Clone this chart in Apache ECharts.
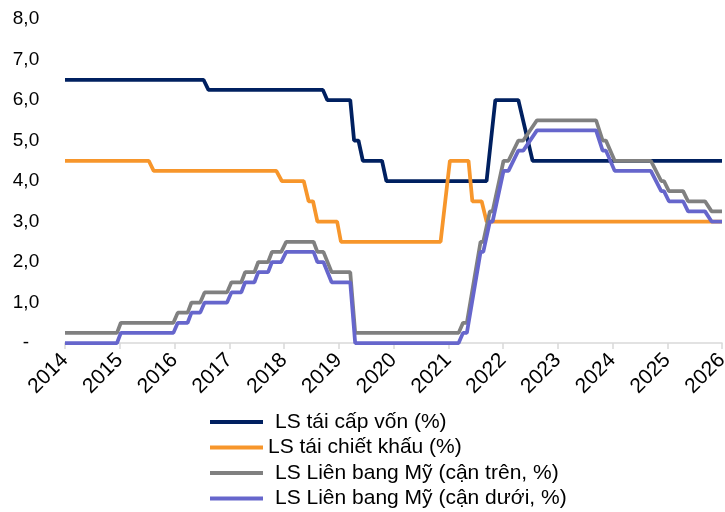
<!DOCTYPE html>
<html>
<head>
<meta charset="utf-8">
<script src="https://cdn.jsdelivr.net/npm/echarts@6/dist/echarts.min.js"></script>
<style>
  html, body { margin: 0; padding: 0; background: #ffffff; }
  #chart { width: 725px; height: 512px; }
</style>
</head>
<body>
<div id="chart"></div>
<script>
// Series names (legend)
const seriesNames = [
  'LS tái cấp vốn (%)',
  'LS tái chiết khấu (%)',
  'LS Liên bang Mỹ (cận trên, %)',
  'LS Liên bang Mỹ (cận dưới, %)'
];

// x-axis tick labels (years)
const yearTicks = [2014, 2015, 2016, 2017, 2018, 2019, 2020, 2021, 2022, 2023, 2024, 2025, 2026];

// Refinancing rate (vertices: fractional year, %)
const refX = [2014.00, 2016.53, 2016.62, 2018.71, 2018.79, 2019.21, 2019.28, 2019.36, 2019.44, 2019.79, 2019.87, 2021.70, 2021.86, 2022.28, 2022.54, 2026.00];
const refY = [6.5, 6.5, 6.25, 6.25, 6.0, 6.0, 5.0, 5.0, 4.5, 4.5, 4.0, 4.0, 6.0, 6.0, 4.5, 4.5];

// Discount rate
const discX = [2014.00, 2015.53, 2015.62, 2017.86, 2017.96, 2018.36, 2018.45, 2018.53, 2018.61, 2018.97, 2019.04, 2020.86, 2021.03, 2021.37, 2021.44, 2021.61, 2021.70, 2026.00];
const discY = [4.5, 4.5, 4.25, 4.25, 4.0, 4.0, 3.5, 3.5, 3.0, 3.0, 2.5, 2.5, 4.5, 4.5, 3.5, 3.5, 3.0, 3.0];

// Fed funds target range (shared vertex dates)
const fedX = [2014.00, 2014.95, 2015.02, 2015.98, 2016.06, 2016.24, 2016.31, 2016.47, 2016.55, 2016.96,
              2017.04, 2017.22, 2017.29, 2017.46, 2017.53, 2017.71, 2017.78, 2017.95, 2018.04, 2018.54,
              2018.61, 2018.72, 2018.87, 2019.21, 2019.30, 2021.19, 2021.27, 2021.34, 2021.59, 2021.64,
              2021.76, 2021.81, 2022.01, 2022.10, 2022.28, 2022.37, 2022.62, 2023.70, 2023.82, 2023.88,
              2024.04, 2024.70, 2024.89, 2024.94, 2025.03, 2025.29, 2025.38, 2025.69, 2025.81, 2026.00];
const fedUpperY = [0.25, 0.25, 0.5, 0.5, 0.75, 0.75, 1.0, 1.0, 1.25, 1.25,
                   1.5, 1.5, 1.75, 1.75, 2.0, 2.0, 2.25, 2.25, 2.5, 2.5,
                   2.25, 2.25, 1.75, 1.75, 0.25, 0.25, 0.5, 0.5, 2.5, 2.5,
                   3.25, 3.25, 4.5, 4.5, 5.0, 5.0, 5.5, 5.5, 5.0, 5.0,
                   4.5, 4.5, 4.0, 4.0, 3.75, 3.75, 3.5, 3.5, 3.25, 3.25];
const fedLowerY = [0, 0, 0.25, 0.25, 0.5, 0.5, 0.75, 0.75, 1.0, 1.0,
                   1.25, 1.25, 1.5, 1.5, 1.75, 1.75, 2.0, 2.0, 2.25, 2.25,
                   2.0, 2.0, 1.5, 1.5, 0, 0, 0.25, 0.25, 2.25, 2.25,
                   3.0, 3.0, 4.25, 4.25, 4.75, 4.75, 5.25, 5.25, 4.75, 4.75,
                   4.25, 4.25, 3.75, 3.75, 3.5, 3.5, 3.25, 3.25, 3.0, 3.0];

const colors = ['#002060', '#F7962B', '#808080', '#6666CC'];

function zip(xs, ys) { return xs.map((x, i) => [x, ys[i]]); }

const FONT = '"Liberation Sans", Arial, sans-serif';

const chart = echarts.init(document.getElementById('chart'), null, { renderer: 'canvas' });

const seriesData = [zip(refX, refY), zip(discX, discY), zip(fedX, fedUpperY), zip(fedX, fedLowerY)];

chart.setOption({
  animation: false,
  backgroundColor: '#ffffff',
  color: colors,
  grid: { left: 65, right: 3, top: 19, bottom: 169, containLabel: false, outerBoundsMode: 'none' },
  xAxis: {
    type: 'value',
    min: yearTicks[0],
    max: yearTicks[yearTicks.length - 1],
    interval: 1,
    axisLine: { show: true, lineStyle: { color: '#D9D9D9', width: 1.5 } },
    axisTick: { show: true, length: 6, lineStyle: { color: '#D9D9D9', width: 1.5 } },
    splitLine: { show: false },
    axisLabel: {
      rotate: 45,
      margin: 14,
      color: '#000000',
      fontFamily: FONT,
      fontSize: 21,
      hideOverlap: false,
      formatter: v => String(Math.round(v))
    }
  },
  yAxis: {
    type: 'value',
    min: 0,
    max: 8,
    interval: 1,
    axisLine: { show: false },
    axisTick: { show: false },
    splitLine: { show: false },
    axisLabel: {
      align: 'center',
      margin: 39,
      color: '#000000',
      fontFamily: FONT,
      fontSize: 19,
      formatter: v => v === 0 ? '-' : v.toFixed(1).replace('.', ',')
    }
  },
  legend: {
    orient: 'vertical',
    left: 210,
    top: 410,
    padding: 0,
    height: 102,
    itemWidth: 53,
    itemHeight: 24,
    itemGap: 1.5,
    icon: 'path://M0,0 L53,0 L53,4 L0,4 Z',
    textStyle: { color: '#000000', fontFamily: FONT, fontSize: 21, lineHeight: 24, padding: [0, 0, 0, 7] },
    data: [
      { name: seriesNames[0] },
      { name: seriesNames[1], textStyle: { padding: [0, 0, 0, 0] } },
      { name: seriesNames[2] },
      { name: seriesNames[3] }
    ]
  },
  series: seriesNames.map((name, i) => ({
    name: name,
    type: 'line',
    symbol: 'none',
    data: seriesData[i],
    lineStyle: { width: 3.75, color: colors[i] },
    itemStyle: { color: colors[i] },
    clip: false
  }))
});
</script>
</body>
</html>
